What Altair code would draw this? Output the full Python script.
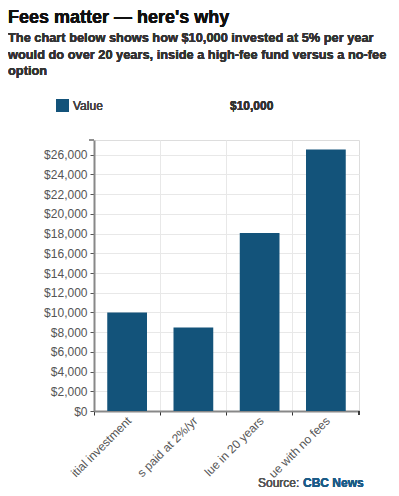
import altair as alt
import pandas as pd

categories = ["Initial investment", "Fees paid at 2%/yr", "Value in 20 years", "Value with no fees"]
values = [10000, 8470, 18060, 26530]
y_ticks = list(range(0, 26001, 2000))

title_text = "Fees matter — here's why"
subtitle_lines = [
    "The chart below shows how $10,000 invested at 5% per year",
    "would do over 20 years, inside a high-fee fund versus a no-fee",
    "option",
]
legend_label = "Value"
legend_value = "$10,000"

df = pd.DataFrame({"category": categories, "value": values})

FONT = "Liberation Sans"
BAR = "#13537a"
W, H = 265, 271

xscale = alt.Scale(domain=categories, paddingInner=0, paddingOuter=0)
yscale = alt.Scale(domain=[0, 27500], nice=False)

base = alt.Chart(df)

bars = base.mark_bar(color=BAR, width=alt.RelativeBandSize(0.6)).encode(
    x=alt.X("category:N", scale=xscale, sort=categories,
            axis=alt.Axis(title=None, labels=False, bandPosition=0, grid=True,
                          gridColor="#e8e8e8", ticks=True, tickColor="#333",
                          tickSize=4, domainColor="#888", domainWidth=2)),
    y=alt.Y("value:Q", scale=yscale,
            axis=alt.Axis(title=None, values=y_ticks, format="$,d", grid=True,
                          gridColor="#e8e8e8", tickColor="#555", tickSize=4,
                          domainColor="#888", domainWidth=2, labelPadding=3,
                          labelFont=FONT, labelFontSize=12, labelColor="#555")),
)

xlabels = base.mark_text(font=FONT, fontSize=12, color="#555", angle=315,
                         align="right", baseline="middle", dx=3, dy=0,
                         limit=82, dir="rtl", ellipsis="\u200b").encode(
    x=alt.X("category:N", scale=xscale, sort=categories),
    y=alt.value(H + 10),
    text="category:N",
)

end_tick = alt.Chart(df).mark_rule(color="#333", strokeWidth=1).encode(
    x=alt.value(W), y=alt.value(H), y2=alt.value(H + 4))
top_tick = alt.Chart(df).mark_rule(color="#888", strokeWidth=1).encode(
    x=alt.value(-5), x2=alt.value(0), y=alt.value(0))

def txt(text, x, y, size=12, weight="normal", color="#333", baseline="alphabetic"):
    return alt.Chart(df).mark_text(text=text, font=FONT, fontSize=size, fontWeight=weight,
                                   color=color, align="left", baseline=baseline).encode(
        x=alt.value(x), y=alt.value(y))

title = txt(title_text, -86, -117, size=18, weight="bold", color="#111")
sub = [txt(line, -86, -98 + i * 16.5, size=12.8, weight="bold", color="#333")
       for i, line in enumerate(subtitle_lines)]
swatch = alt.Chart(df).mark_rect(color=BAR).encode(
    x=alt.value(-38), x2=alt.value(-25), y=alt.value(-41), y2=alt.value(-28))
leg_label = txt(legend_label, -21, -34.5, size=12, color="#444", baseline="middle")
leg_value = txt(legend_value, 136, -34.5, size=12, weight="bold", color="#333", baseline="middle")
src1 = txt("Source: ", 164, 347, size=12, color="#555")
src2 = txt("CBC News", 209, 347, size=12, weight="bold", color="#1b5b87")

chart = alt.layer(
    bars, xlabels, end_tick, top_tick, title, *sub, swatch, leg_label, leg_value, src1, src2
).properties(
    width=W, height=H,
    autosize=alt.AutoSizeParams(type="none"),
    padding={"left": 86, "top": 132, "right": 32, "bottom": 82},
).configure_view(stroke=None).configure(background="white")

chart.save("out.html", embed_options={"renderer": "svg", "actions": False})
